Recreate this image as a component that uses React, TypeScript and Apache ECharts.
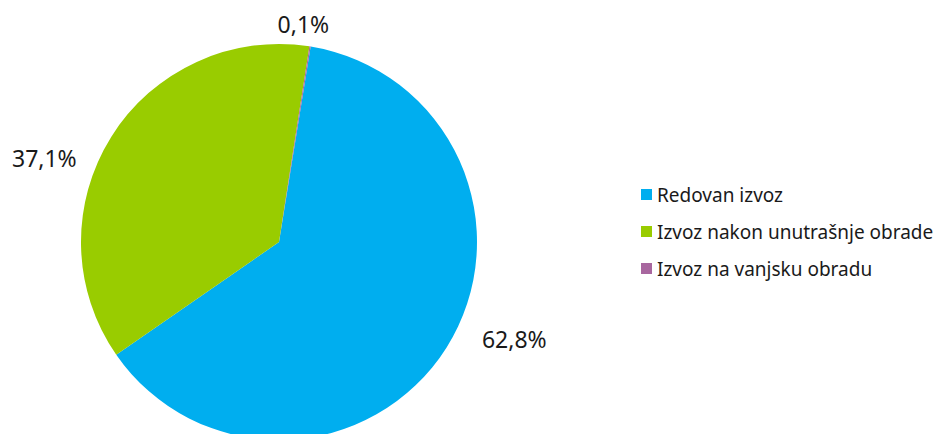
import React, { useEffect, useRef } from "react";
import * as echarts from "echarts";

const categories = ["Redovan izvoz", "Izvoz nakon unutrašnje obrade", "Izvoz na vanjsku obradu"];
const values = [62.8, 37.1, 0.1];
const labels = ["62,8%", "37,1%", "0,1%"];
const colors = ["#00AEEF", "#99CC00", "#A8679F"];
const labelOffsets = [[22, -14], [-21, 26], [-39, -13]];

export default function App() {
  const ref = useRef<HTMLDivElement>(null);
  useEffect(() => {
    const chart = echarts.init(ref.current!, undefined, { renderer: "svg" });
    const font = "'Noto Sans', sans-serif";
    chart.setOption({
      animation: false,
      backgroundColor: "#ffffff",
      color: colors,
      legend: {
        orient: "vertical",
        left: 636,
        top: 180,
        itemWidth: 11,
        itemHeight: 11,
        itemGap: 18,
        icon: "rect",
        textStyle: { fontFamily: font, fontSize: 19, color: "#1a1a1a" },
        data: categories,
      },
      series: [
        {
          type: "pie",
          center: [279, 242],
          radius: 198,
          startAngle: 80.8,
          clockwise: true,
          avoidLabelOverlap: false,
          label: {
            show: true,
            position: "outside",
            fontFamily: font,
            fontSize: 23,
            color: "#1a1a1a",
            formatter: (p: any) => labels[p.dataIndex],
          },
          labelLine: { show: false, length: 10, length2: 0 },
          itemStyle: { borderWidth: 0 },
          data: categories.map((name, i) => ({
            name,
            value: values[i],
            label: { offset: labelOffsets[i] },
          })),
        },
      ],
    });
    return () => chart.dispose();
  }, []);
  return (
    <div
      ref={ref}
      style={{ position: "fixed", left: 0, top: 0, width: 934, height: 434 }}
    />
  );
}
